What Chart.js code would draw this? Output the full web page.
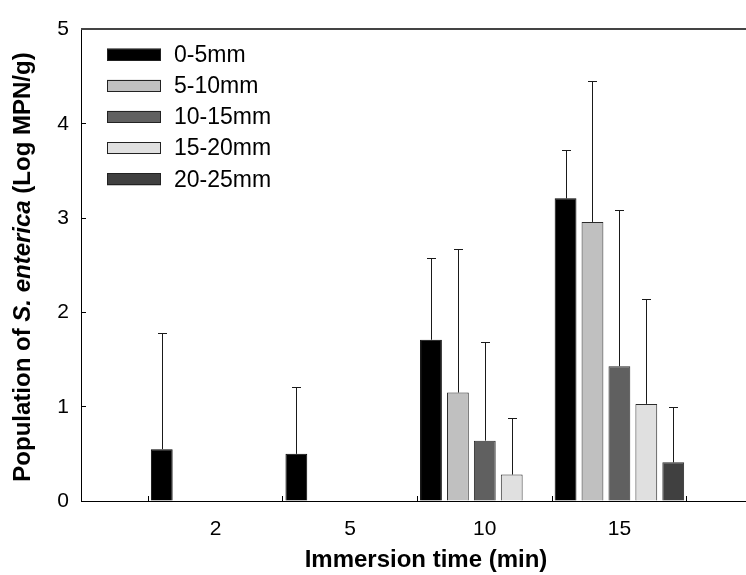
<!DOCTYPE html>
<html>
<head>
<meta charset="utf-8">
<script src="https://cdn.jsdelivr.net/npm/chart.js@4.4.1/dist/chart.umd.min.js"></script>
<style>
  html, body { margin: 0; padding: 0; width: 746px; height: 575px; overflow: hidden; background: #fff; }
  /* wider than the window: the plot runs past the right edge, as in the source figure */
  #wrap { width: 775px; height: 575px; }
</style>
</head>
<body>
<div id="wrap"><canvas id="chart"></canvas></div>
<script>
// Immersion times (min) and soil depth layers
const times = ['2', '5', '10', '15'];
const depths = ['0-5mm', '5-10mm', '10-15mm', '15-20mm', '20-25mm'];

// Mean population (Log MPN/g) per depth, one value per immersion time
const mean0to5 = [0.55, 0.50, 1.71, 3.21];
const mean5to10 = [0, 0, 1.15, 2.96];
const mean10to15 = [0, 0, 0.64, 1.43];
const mean15to20 = [0, 0, 0.28, 1.03];
const mean20to25 = [0, 0, 0, 0.41];

// Standard deviations (upper error bars only)
const sd0to5 = [1.23, 0.71, 0.87, 0.51];
const sd5to10 = [0, 0, 1.52, 1.49];
const sd10to15 = [0, 0, 1.05, 1.66];
const sd15to20 = [0, 0, 0.60, 1.11];
const sd20to25 = [0, 0, 0, 0.59];

const yTicks = [0, 1, 2, 3, 4, 5];

const FONT = "'Liberation Sans', Arial, Helvetica, sans-serif";
const fills = ['#000000', '#c0c0c0', '#606060', '#e0e0e0', '#404040'];

// empty slots either side so the first/last groups sit one step in from the axis ends
const pad = arr => [null, ...arr, null];
const labels = ['', ...times, ''];

const means = [mean0to5, mean5to10, mean10to15, mean15to20, mean20to25];
const sds = [sd0to5, sd5to10, sd10to15, sd15to20, sd20to25];

const datasets = depths.map((name, i) => ({
  label: name,
  data: pad(means[i]),
  errors: pad(sds[i]),
  backgroundColor: fills[i],
  borderColor: i === 0 ? '#000' : '#2b2b2b',
  borderWidth: 1,
  borderSkipped: 'start',
  categoryPercentage: 1.0,
  barPercentage: 0.81
}));

// upper error bars with a small cap
const errorBars = {
  id: 'errorBars',
  afterDatasetsDraw(chart) {
    const ctx = chart.ctx;
    const y = chart.scales.y;
    ctx.save();
    ctx.strokeStyle = '#1a1a1a';
    ctx.lineWidth = 1;
    chart.data.datasets.forEach((ds, i) => {
      chart.getDatasetMeta(i).data.forEach((bar, j) => {
        const v = ds.data[j], e = ds.errors[j];
        if (!v || !e) return;
        const x = Math.round(bar.x) + 0.5;
        const yTop = Math.round(y.getPixelForValue(v + e)) + 0.5;
        const yBase = y.getPixelForValue(v);
        ctx.beginPath();
        ctx.moveTo(x, yBase);
        ctx.lineTo(x, yTop);
        ctx.moveTo(x - 4.5, yTop);
        ctx.lineTo(x + 4.5, yTop);
        ctx.stroke();
      });
    });
    ctx.restore();
  }
};

// frame line on top, titles and the boxed legend
const decorations = {
  id: 'decorations',
  afterDraw(chart) {
    const ctx = chart.ctx;
    const area = chart.chartArea;
    ctx.save();

    ctx.strokeStyle = '#444';
    ctx.lineWidth = 2;
    ctx.beginPath();
    ctx.moveTo(area.left, area.top - 0.5);
    ctx.lineTo(area.right, area.top - 0.5);
    ctx.stroke();

    // x title
    ctx.fillStyle = '#000';
    ctx.font = `bold 24px ${FONT}`;
    ctx.textAlign = 'center';
    ctx.textBaseline = 'alphabetic';
    ctx.fillText('Immersion time (min)', 426, 567);

    // y title with italic species name
    const parts = [
      ['Population of ', 'bold'],
      ['S. enterica', 'italic bold'],
      [' (Log MPN/g)', 'bold']
    ];
    let total = 0;
    parts.forEach(p => { ctx.font = `${p[1]} 24px ${FONT}`; total += ctx.measureText(p[0]).width; });
    ctx.translate(30, 267);
    ctx.rotate(-Math.PI / 2);
    ctx.textAlign = 'left';
    let cx = -total / 2;
    parts.forEach(p => {
      ctx.font = `${p[1]} 24px ${FONT}`;
      ctx.fillText(p[0], cx, 0);
      cx += ctx.measureText(p[0]).width;
    });
    ctx.setTransform(1, 0, 0, 1, 0, 0);

    // legend
    ctx.font = `23px ${FONT}`;
    ctx.textAlign = 'left';
    ctx.textBaseline = 'middle';
    chart.data.datasets.forEach((ds, i) => {
      const cy = 54.5 + i * 31.2;
      ctx.fillStyle = ds.backgroundColor;
      ctx.fillRect(107, cy - 6, 54, 12);
      ctx.strokeStyle = '#222';
      ctx.lineWidth = 1;
      ctx.strokeRect(107.5, Math.round(cy - 6) + 0.5, 53, 11);
      ctx.fillStyle = '#000';
      ctx.fillText(ds.label, 174, cy + 1);
    });
    ctx.restore();
  }
};

new Chart(document.getElementById('chart'), {
  type: 'bar',
  data: { labels, datasets },
  plugins: [errorBars, decorations],
  options: {
    responsive: true,
    maintainAspectRatio: false,
    animation: false,
    layout: { padding: { top: 17, left: 0, right: 0, bottom: 0 } },
    plugins: {
      legend: { display: false },
      tooltip: { enabled: false }
    },
    scales: {
      x: {
        type: 'category',
        offset: false,
        grid: { drawOnChartArea: false, tickLength: -5, color: '#000' },
        border: { color: '#000', width: 1 },
        ticks: {
          autoSkip: false,
          maxRotation: 0,
          padding: 21,
          color: '#000',
          font: { family: FONT, size: 21 }
        },
        afterFit: s => { s.height = 74; }
      },
      y: {
        min: 0,
        max: 5,
        afterBuildTicks: s => { s.ticks = yTicks.map(v => ({ value: v })); },
        grid: { drawOnChartArea: false, tickLength: -5, color: '#000' },
        border: { color: '#000', width: 1 },
        ticks: {
          padding: 17,
          color: '#000',
          font: { family: FONT, size: 21 }
        },
        afterFit: s => { s.width = 81; }
      }
    }
  }
});
</script>
</body>
</html>
